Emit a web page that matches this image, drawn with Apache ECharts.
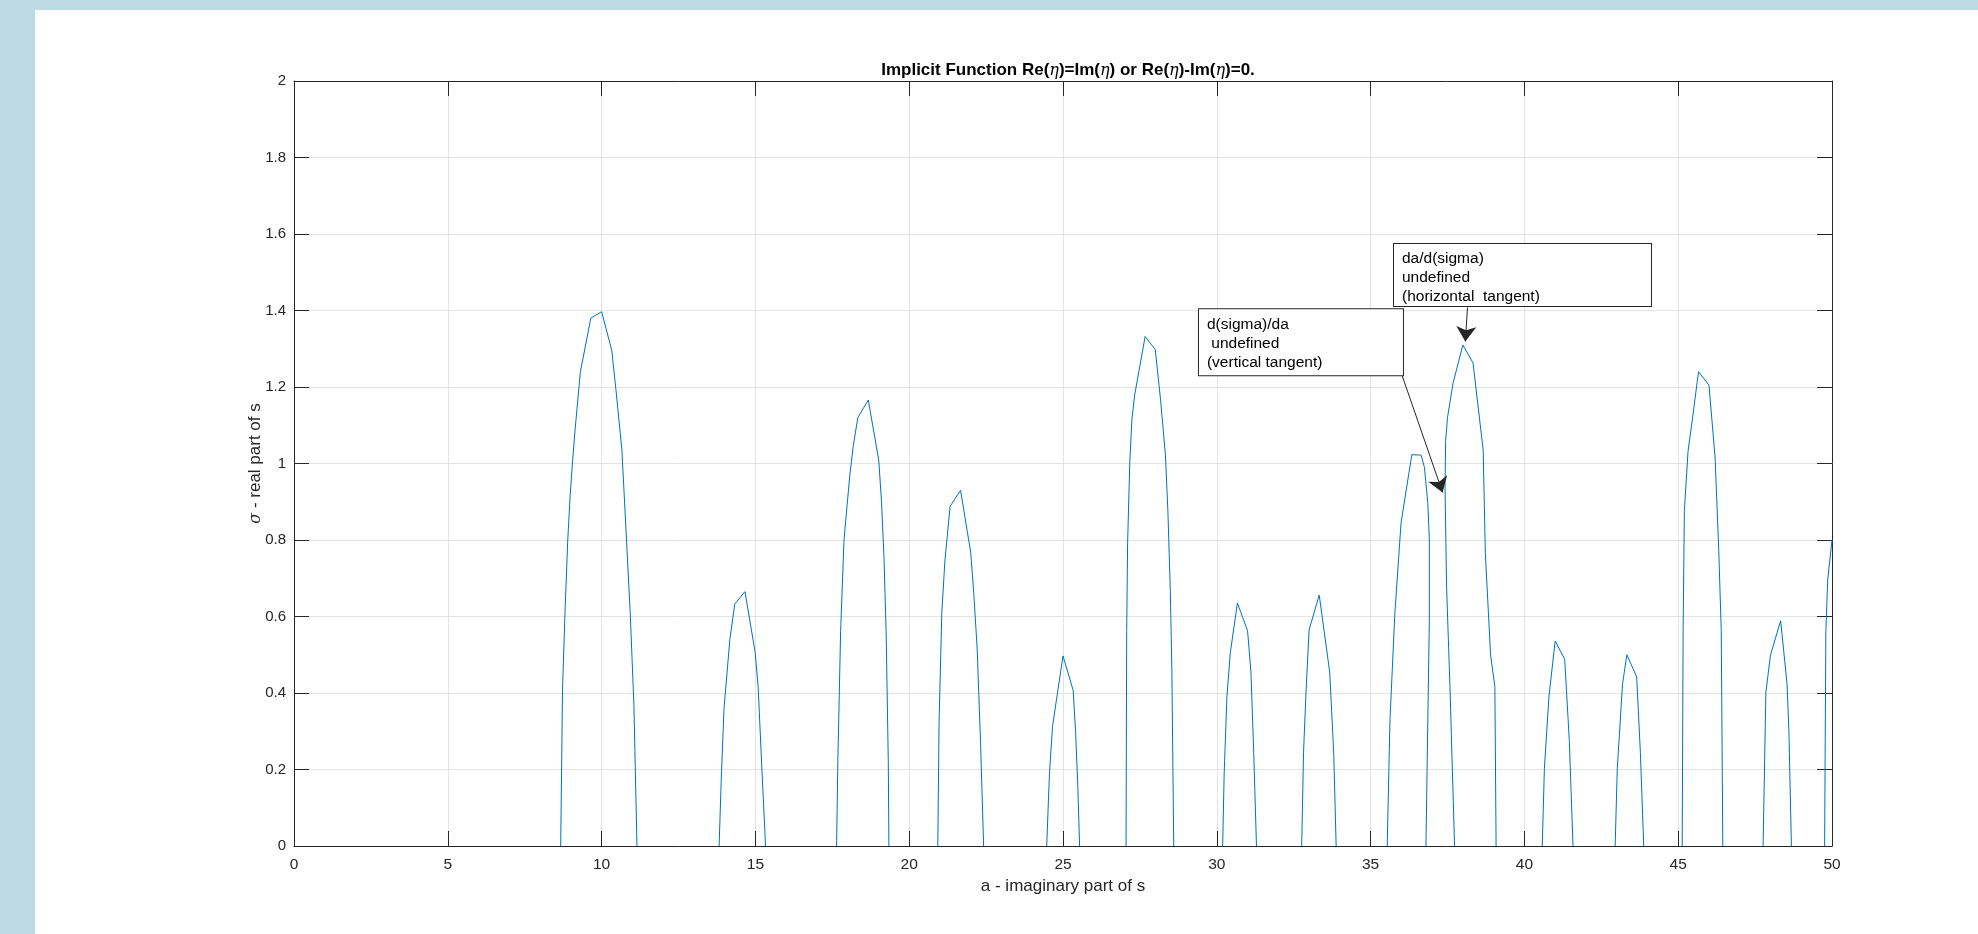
<!DOCTYPE html>
<html>
<head>
<meta charset="utf-8">
<script src="https://cdn.jsdelivr.net/npm/echarts@6/dist/echarts.min.js"></script>
<style>
  html, body { margin: 0; padding: 0; width: 1978px; height: 934px; background: #bcd9e4; overflow: hidden; }
  #chart { position: absolute; left: 35px; top: 10px; width: 1943px; height: 924px; background: #fff; }
</style>
</head>
<body>
<div id="chart"></div>
<script>
// tick values
var xTicks = [0, 50, 5];   // min, max, step
var yTicks = [0, 2, 0.2];

// traced arches of Re(eta)-Im(eta)=0, [a, sigma]
var arch1 = [[8.67,0],[8.73,0.41],[8.81,0.61],[8.9,0.8],[8.98,0.92],[9.06,1.01],[9.14,1.09],[9.31,1.24],[9.65,1.38],[10.0,1.397],[10.33,1.296],[10.47,1.19],[10.66,1.035],[10.81,0.8],[10.93,0.61],[11.05,0.37],[11.15,0]];
var arch2 = [[13.82,0],[13.89,0.175],[13.98,0.36],[14.17,0.54],[14.33,0.633],[14.66,0.665],[14.99,0.508],[15.09,0.416],[15.2,0.22],[15.33,0]];
var arch3 = [[17.64,0],[17.68,0.22],[17.77,0.56],[17.88,0.8],[17.98,0.89],[18.07,0.97],[18.18,1.045],[18.33,1.12],[18.67,1.166],[19.01,1.009],[19.1,0.9],[19.18,0.755],[19.25,0.56],[19.32,0.22],[19.34,0]];
var arch4 = [[20.93,0],[20.97,0.32],[21.06,0.61],[21.16,0.745],[21.33,0.888],[21.67,0.93],[22.0,0.767],[22.1,0.66],[22.21,0.515],[22.32,0.27],[22.42,0]];
var arch5 = [[24.47,0],[24.56,0.19],[24.66,0.313],[25.0,0.497],[25.33,0.407],[25.41,0.297],[25.48,0.16],[25.54,0]];
var arch6 = [[27.05,0],[27.07,0.56],[27.1,0.79],[27.17,1.0],[27.24,1.116],[27.33,1.179],[27.67,1.332],[28.0,1.298],[28.17,1.168],[28.33,1.022],[28.41,0.875],[28.49,0.665],[28.54,0.455],[28.6,0]];
var arch7 = [[30.19,0],[30.24,0.19],[30.33,0.392],[30.44,0.506],[30.67,0.635],[31.0,0.563],[31.11,0.455],[31.2,0.245],[31.29,0]];
var arch8 = [[32.76,0],[32.82,0.245],[32.9,0.402],[33.0,0.565],[33.33,0.656],[33.67,0.455],[33.8,0.245],[33.88,0]];
var arch9 = [[35.54,0],[35.63,0.33],[35.79,0.61],[35.99,0.845],[36.34,1.023],[36.64,1.022],[36.75,0.99],[36.86,0.896],[36.91,0.8],[36.91,0.59],[36.86,0.33],[36.8,0]];
var arch10 = [[37.73,0],[37.58,0.417],[37.47,0.678],[37.42,0.94],[37.44,1.06],[37.5,1.12],[37.68,1.21],[38.0,1.31],[38.33,1.263],[38.66,1.035],[38.73,0.765],[38.9,0.5],[39.04,0.417],[39.08,0]];
var arch11 = [[40.58,0],[40.65,0.203],[40.8,0.392],[41.0,0.536],[41.31,0.488],[41.46,0.276],[41.58,0]];
var arch12 = [[42.95,0],[43.02,0.203],[43.19,0.423],[43.33,0.5],[43.65,0.442],[43.77,0.245],[43.88,0]];
var arch13 = [[45.13,0],[45.16,0.56],[45.2,0.875],[45.32,1.032],[45.48,1.127],[45.66,1.24],[46.0,1.205],[46.2,1.015],[46.32,0.77],[46.4,0.56],[46.45,0]];
var arch14 = [[47.76,0],[47.85,0.402],[48.0,0.499],[48.33,0.589],[48.54,0.423],[48.6,0.297],[48.68,0]];
var arch15 = [[49.76,0],[49.8,0.56],[49.86,0.696],[50.0,0.8]];
var arches = [arch1, arch2, arch3, arch4, arch5, arch6, arch7, arch8, arch9, arch10, arch11, arch12, arch13, arch14, arch15];

// annotations: box top-left corner, arrow start, arrow tip (data coords)
var noteText = [
  "d(sigma)/da\n undefined\n(vertical tangent)",
  "da/d(sigma)\nundefined\n(horizontal  tangent)"
];
var noteBox = [[29.42, 1.403], [35.76, 1.574]];
var arrowFrom = [[36.02, 1.231], [38.15, 1.408]];
var arrowTo = [[37.34, 0.924], [38.08, 1.319]];

var axisColor = "#262626";
var font = "Arial, 'Liberation Sans', Helvetica, sans-serif";
var noteStyle = [
  { width: 188, padding: [6, 8, 3, 8] },
  { width: 241, padding: [5, 8, 0, 8] }
];

var chart = echarts.init(document.getElementById("chart"));

var series = arches.map(function(a) {
  return {
    type: "line",
    data: a,
    xAxisIndex: 0,
    yAxisIndex: 0,
    showSymbol: false,
    symbol: "none",
    smooth: false,
    clip: true,
    lineStyle: { color: "#0072BD", width: 1 },
    itemStyle: { color: "#0072BD" },
    animation: false,
    silent: true
  };
});

// annotation series (boxes + arrows)
series.push({
  type: "line",
  data: [],
  xAxisIndex: 0,
  yAxisIndex: 0,
  animation: false,
  silent: true,
  z: 10,
  markLine: {
    silent: true,
    animation: false,
    symbol: ["none", "arrow"],
    symbolSize: [0, 15],
    label: { show: false },
    lineStyle: { color: axisColor, width: 1, type: "solid" },
    data: arrowFrom.map(function(p, i) {
      return [{ coord: p, symbol: "none" }, { coord: arrowTo[i], symbol: "arrow", symbolSize: 15, itemStyle: { color: "#000" } }];
    })
  },
  markPoint: {
    silent: true,
    animation: false,
    symbol: "rect",
    symbolSize: 0,
    itemStyle: { color: "transparent" },
    data: noteBox.map(function(p, i) {
      return {
        coord: p,
        label: {
          show: true,
          position: [0, 0],
          align: "left",
          verticalAlign: "top",
          formatter: noteText[i],
          width: noteStyle[i].width,
          color: "#000",
          fontSize: 15.5,
          lineHeight: 19,
          fontFamily: font,
          backgroundColor: "#fff",
          borderColor: axisColor,
          borderWidth: 1,
          padding: noteStyle[i].padding
        }
      };
    })
  }
});

var baseX = {
  type: "value",
  min: xTicks[0],
  max: xTicks[1],
  interval: xTicks[2],
  axisLine: { show: true, onZero: false, lineStyle: { color: axisColor, width: 1 } },
  axisTick: { show: true, inside: true, length: 15, lineStyle: { color: axisColor, width: 1 } }
};
var baseY = {
  type: "value",
  min: yTicks[0],
  max: yTicks[1],
  interval: yTicks[2],
  axisLine: { show: true, onZero: false, lineStyle: { color: axisColor, width: 1 } },
  axisTick: { show: true, inside: true, length: 15, lineStyle: { color: axisColor, width: 1 } }
};

var option = {
  backgroundColor: "#fff",
  animation: false,
  title: {
    text: "Implicit Function Re({e|η})=Im({e|η}) or Re({e|η})-Im({e|η})=0.",
    left: 1028,
    top: 47,
    textAlign: "center",
    textStyle: {
      fontFamily: font,
      fontSize: 17,
      fontWeight: "bold",
      color: "#000",
      rich: {
        e: { fontFamily: "'DejaVu Serif', serif", fontStyle: "italic", fontWeight: "normal", fontSize: 16, color: "#000" }
      }
    }
  },
  grid: { left: 259, top: 71, right: 146, bottom: 88, containLabel: false },
  xAxis: [
    Object.assign({}, baseX, {
      position: "bottom",
      name: "a - imaginary part of s",
      nameLocation: "middle",
      nameGap: 32,
      nameMoveOverlap: false,
      nameTextStyle: { fontFamily: font, fontSize: 17, color: axisColor },
      axisLabel: { color: axisColor, fontSize: 15.5, fontFamily: font, margin: 11 },
      splitLine: { show: true, lineStyle: { color: "#e4e4e4", width: 1 } }
    }),
    Object.assign({}, baseX, {
      position: "top",
      axisLabel: { show: false },
      splitLine: { show: false }
    })
  ],
  yAxis: [
    Object.assign({}, baseY, {
      position: "left",
      name: "{s|σ} - real part of s",
      nameLocation: "middle",
      nameGap: 30,
      nameMoveOverlap: false,
      nameTextStyle: {
        fontFamily: font, fontSize: 17, color: axisColor,
        rich: { s: { fontFamily: "'DejaVu Serif', serif", fontStyle: "italic", fontSize: 16, color: axisColor } }
      },
      axisLabel: { color: axisColor, fontSize: 15, fontFamily: font, margin: 8 },
      splitLine: { show: true, lineStyle: { color: "#e4e4e4", width: 1 } }
    }),
    Object.assign({}, baseY, {
      position: "right",
      axisLabel: { show: false },
      splitLine: { show: false }
    })
  ],
  series: series
};

chart.setOption(option);
</script>
</body>
</html>
